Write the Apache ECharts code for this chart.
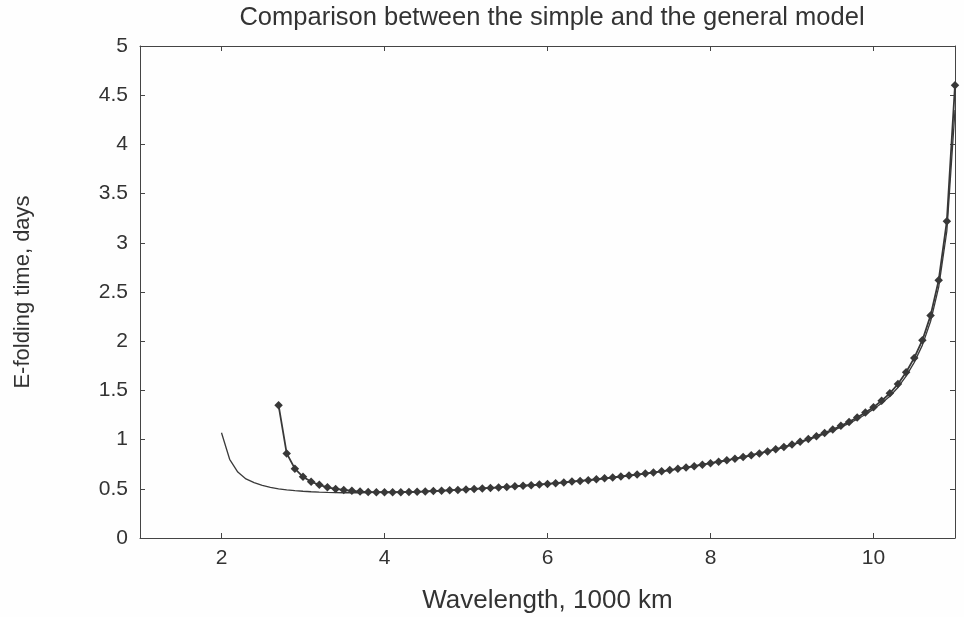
<!DOCTYPE html>
<html>
<head>
<meta charset="utf-8">
<script src="https://cdn.jsdelivr.net/npm/echarts@6/dist/echarts.min.js"></script>
<style>html,body{margin:0;padding:0;background:#fff;}#c{width:964px;height:617px;}</style>
</head>
<body>
<div id="c"></div>
<script>
var titleText = 'Comparison between the simple and the general model';
var xName = 'Wavelength, 1000 km';
var yName = 'E-folding time, days';
var xTicks = [2, 4, 6, 8, 10];
var yTicks = [0, 0.5, 1, 1.5, 2, 2.5, 3, 3.5, 4, 4.5, 5];

// simple model: wavelength 2.0 .. 11.0 step 0.1
var simpleX = [2.0,2.1,2.2,2.3,2.4,2.5,2.6,2.7,2.8,2.9,3.0,3.1,3.2,3.3,3.4,3.5,3.6,3.7,3.8,3.9,
  4.0,4.1,4.2,4.3,4.4,4.5,4.6,4.7,4.8,4.9,5.0,5.1,5.2,5.3,5.4,5.5,5.6,5.7,5.8,5.9,
  6.0,6.1,6.2,6.3,6.4,6.5,6.6,6.7,6.8,6.9,7.0,7.1,7.2,7.3,7.4,7.5,7.6,7.7,7.8,7.9,
  8.0,8.1,8.2,8.3,8.4,8.5,8.6,8.7,8.8,8.9,9.0,9.1,9.2,9.3,9.4,9.5,9.6,9.7,9.8,9.9,
  10.0,10.1,10.2,10.3,10.4,10.5,10.6,10.7,10.8,10.9,11.0];
var simpleY = [1.07,0.80,0.67,0.60,0.562,0.535,0.515,0.50,0.49,0.482,0.475,0.47,0.466,0.463,0.461,0.46,0.46,0.46,0.462,0.464,
  0.465,0.465,0.466,0.468,0.47,0.473,0.477,0.481,0.485,0.489,0.494,0.499,0.504,0.509,0.514,0.519,0.525,0.531,0.537,0.543,
  0.55,0.557,0.565,0.573,0.58,0.588,0.597,0.606,0.615,0.625,0.635,0.645,0.655,0.666,0.678,0.69,0.703,0.716,0.73,0.745,
  0.76,0.775,0.79,0.806,0.823,0.841,0.86,0.88,0.90,0.922,0.946,0.972,0.999,1.028,1.059,1.092,1.127,1.165,1.207,1.255,
  1.31,1.37,1.44,1.53,1.645,1.785,1.96,2.20,2.55,3.12,4.35];

// general model: wavelength 2.7 .. 11.0 step 0.1
var generalX = [2.7,2.8,2.9,3.0,3.1,3.2,3.3,3.4,3.5,3.6,3.7,3.8,3.9,
  4.0,4.1,4.2,4.3,4.4,4.5,4.6,4.7,4.8,4.9,5.0,5.1,5.2,5.3,5.4,5.5,5.6,5.7,5.8,5.9,
  6.0,6.1,6.2,6.3,6.4,6.5,6.6,6.7,6.8,6.9,7.0,7.1,7.2,7.3,7.4,7.5,7.6,7.7,7.8,7.9,
  8.0,8.1,8.2,8.3,8.4,8.5,8.6,8.7,8.8,8.9,9.0,9.1,9.2,9.3,9.4,9.5,9.6,9.7,9.8,9.9,
  10.0,10.1,10.2,10.3,10.4,10.5,10.6,10.7,10.8,10.9,11.0];
var generalY = [1.35,0.86,0.705,0.622,0.572,0.54,0.515,0.499,0.488,0.479,0.472,0.468,0.466,
  0.465,0.465,0.466,0.468,0.47,0.473,0.477,0.481,0.485,0.489,0.494,0.499,0.504,0.509,0.514,0.519,0.525,0.531,0.537,0.543,
  0.55,0.557,0.565,0.573,0.58,0.588,0.597,0.606,0.615,0.625,0.635,0.645,0.655,0.666,0.678,0.69,0.703,0.716,0.73,0.745,
  0.76,0.775,0.79,0.806,0.823,0.841,0.86,0.88,0.902,0.925,0.95,0.977,1.005,1.035,1.068,1.103,1.14,1.18,1.225,1.275,
  1.33,1.395,1.47,1.565,1.685,1.83,2.01,2.26,2.62,3.22,4.60];

function pairs(xs, ys){ return xs.map(function(x,i){ return [x, ys[i]]; }); }

var txt = '#333';
var lineCol = '#444';
var fontFam = 'Liberation Sans, Arial, sans-serif';

var chart = echarts.init(document.getElementById('c'), null, {renderer:'canvas'});
chart.setOption({
  backgroundColor: '#fefefe',
  animation: false,
  title: {
    text: titleText, left: 547, textAlign: 'center', top: 0,
    textStyle: {fontFamily: fontFam, fontSize: 25.5, fontWeight: 'normal', color: txt}
  },
  grid: {left: 140, right: 9, top: 46, bottom: 79, containLabel: false, outerBoundsMode: 'none'},
  xAxis: [{
    type: 'value', min: 1, max: 11, position: 'bottom',
    name: xName, nameLocation: 'middle', nameGap: 50,
    nameTextStyle: {fontFamily: fontFam, fontSize: 26, color: txt},
    axisLine: {show: true, onZero: false, lineStyle: {color: lineCol, width: 1}},
    axisTick: {show: true, inside: true, length: 5, customValues: xTicks, lineStyle: {color: lineCol}},
    axisLabel: {fontFamily: fontFam, fontSize: 21, color: txt, margin: 10, customValues: xTicks},
    splitLine: {show: false}
  }, {
    type: 'value', min: 1, max: 11, position: 'top',
    axisLine: {show: true, onZero: false, lineStyle: {color: lineCol, width: 1}},
    axisTick: {show: true, inside: true, length: 5, customValues: xTicks, lineStyle: {color: lineCol}},
    axisLabel: {show: false},
    splitLine: {show: false}
  }],
  yAxis: [{
    type: 'value', min: 0, max: 5, interval: 0.5, position: 'left',
    name: yName, nameLocation: 'middle', nameGap: 106, nameRotate: 90,
    nameTextStyle: {fontFamily: fontFam, fontSize: 22, color: txt},
    axisLine: {show: true, onZero: false, lineStyle: {color: lineCol, width: 1}},
    axisTick: {show: true, inside: true, length: 5, lineStyle: {color: lineCol}},
    axisLabel: {fontFamily: fontFam, fontSize: 21, color: txt, margin: 12, customValues: yTicks},
    splitLine: {show: false}
  }, {
    type: 'value', min: 0, max: 5, interval: 0.5, position: 'right',
    axisLine: {show: true, onZero: false, lineStyle: {color: lineCol, width: 1}},
    axisTick: {show: true, inside: true, length: 5, lineStyle: {color: lineCol}},
    axisLabel: {show: false},
    splitLine: {show: false}
  }],
  series: [{
    name: 'simple', type: 'line', xAxisIndex: 0, yAxisIndex: 0,
    data: pairs(simpleX, simpleY), showSymbol: false, symbol: 'none',
    lineStyle: {color: '#3a3a3a', width: 1.3}
  }, {
    name: 'general', type: 'line', xAxisIndex: 0, yAxisIndex: 0,
    data: pairs(generalX, generalY), symbol: 'diamond', symbolSize: 8.5,
    itemStyle: {color: '#383838'},
    lineStyle: {color: '#383838', width: 1.8}
  }]
});
</script>
</body>
</html>
